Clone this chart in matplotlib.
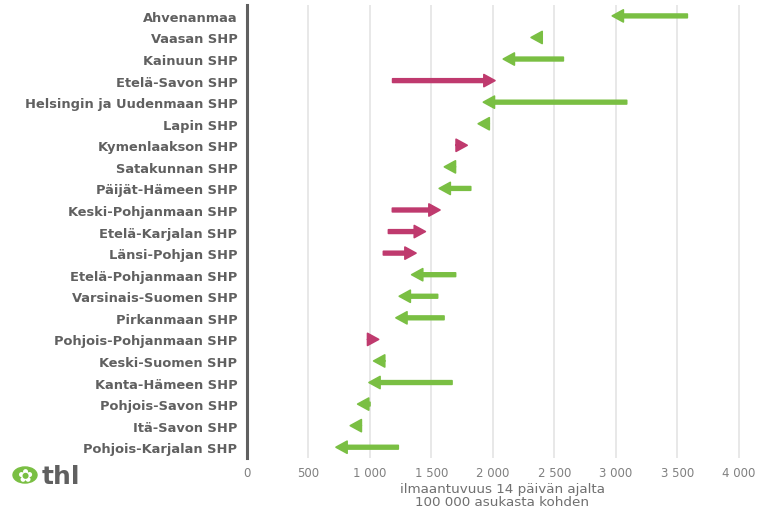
import matplotlib.pyplot as plt
from matplotlib.patches import Circle

# regions (top to bottom), earlier value -> latest value
regions = [
    "Ahvenanmaa", "Vaasan SHP", "Kainuun SHP", "Etelä-Savon SHP",
    "Helsingin ja Uudenmaan SHP", "Lapin SHP", "Kymenlaakson SHP",
    "Satakunnan SHP", "Päijät-Hämeen SHP", "Keski-Pohjanmaan SHP",
    "Etelä-Karjalan SHP", "Länsi-Pohjan SHP", "Etelä-Pohjanmaan SHP",
    "Varsinais-Suomen SHP", "Pirkanmaan SHP", "Pohjois-Pohjanmaan SHP",
    "Keski-Suomen SHP", "Kanta-Hämeen SHP", "Pohjois-Savon SHP",
    "Itä-Savon SHP", "Pohjois-Karjalan SHP",
]
start_vals = [3580, 2390, 2572, 1184, 3087, 1960, 1710, 1680, 1819, 1182,
              1150, 1109, 1696, 1550, 1602, 1000, 1115, 1667, 1000, 915, 1230]
end_vals = [2970, 2310, 2084, 2016, 1922, 1880, 1790, 1605, 1563, 1569,
            1450, 1374, 1339, 1238, 1211, 1070, 1030, 992, 900, 840, 724]
x_ticks = [0, 500, 1000, 1500, 2000, 2500, 3000, 3500, 4000]
x_tick_labels = ["0", "500", "1 000", "1 500", "2 000", "2 500", "3 000", "3 500", "4 000"]

GREEN = "#7abf43"
MAGENTA = "#bf3a6e"
GREY = "#606060"
HEAD_LEN = 90

fig = plt.figure(figsize=(7.63, 5.10), dpi=100)
ax = fig.add_axes([0.3237, 0.10, 0.669, 0.888])

for i, (s, e) in enumerate(zip(start_vals, end_vals)):
    col = GREEN if e < s else MAGENTA
    # short changes show only the arrow head
    shaft = 0.17 if abs(e - s) > HEAD_LEN else 0.0
    ax.arrow(s, i, e - s, 0, width=shaft, head_width=0.56, head_length=HEAD_LEN,
             length_includes_head=True, color=col, lw=1.2,
             joinstyle="round", zorder=3)

ax.set_xlim(0, 4150)
ax.set_ylim(len(regions) - 0.5, -0.5)
ax.set_yticks(range(len(regions)))
ax.set_yticklabels(regions, fontsize=9.4, fontweight="bold", color=GREY)
ax.set_xticks(x_ticks)
ax.set_xticklabels(x_tick_labels, fontsize=8.5, color="#808080")
ax.tick_params(axis="both", length=0)
ax.tick_params(axis="y", pad=7)
ax.tick_params(axis="x", pad=6)
ax.set_xlabel("ilmaantuvuus 14 päivän ajalta\n100 000 asukasta kohden",
              fontsize=9.7, color="#707070", labelpad=2, linespacing=0.95)

ax.grid(axis="x", color="#e4e4e4", lw=1.2)
ax.set_axisbelow(True)
for side in ["top", "right", "bottom"]:
    ax.spines[side].set_visible(False)
ax.spines["left"].set_color("#606060")
ax.spines["left"].set_linewidth(2.2)

# thl logo
logo = Circle((25 / 763, 1 - 476 / 510), 12 / 763, transform=fig.transFigure,
              color=GREEN, zorder=5)
fig.patches.append(logo)
fig.text(25 / 763, 1 - 477 / 510, "✿", fontsize=13, color="white",
         ha="center", va="center", zorder=6)
fig.text(42 / 763, 1 - 477 / 510, "thl", fontsize=18, fontweight="bold",
         color=GREY, ha="left", va="center")

fig.savefig("out.png", dpi=100)
